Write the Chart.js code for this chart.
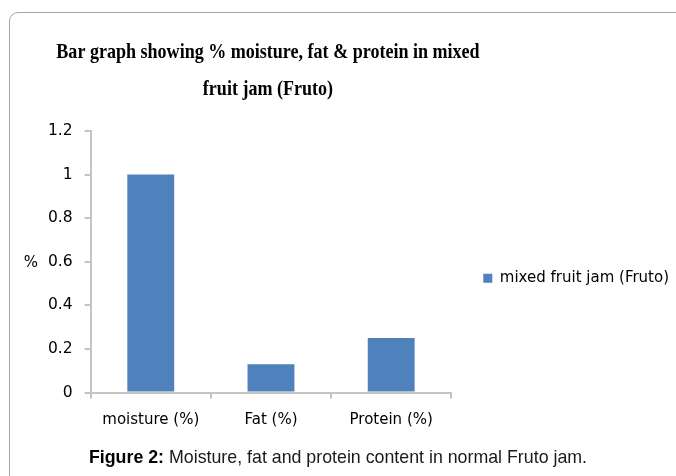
<!DOCTYPE html>
<html>
<head>
<meta charset="utf-8">
<script src="https://cdn.jsdelivr.net/npm/chart.js@4.4.1/dist/chart.umd.min.js"></script>
<style>
  html, body { margin: 0; padding: 0; background: #fff; overflow: hidden; }
  #wrap { position: relative; width: 676px; height: 476px; overflow: hidden; }
  #frame { position: absolute; left: 9px; top: 12px; width: 720px; height: 520px;
           border: 1px solid #a6a6a6; border-radius: 9px; box-sizing: border-box; }
  #chartBox { position: absolute; left: 0; top: 0; width: 676px; height: 476px; }
  #caption { position: absolute; left: 0; top: 446px; width: 676px; text-align: center;
             font-family: "Liberation Sans", Arial, sans-serif; font-size: 17.8px; line-height: 22px; color: #1a1a1a; }
  #caption b { color: #000; }
</style>
</head>
<body>
<div id="wrap">
  <div id="frame"></div>
  <div id="chartBox"><canvas id="c" width="676" height="476"></canvas></div>
  <div id="caption"><b>Figure 2:</b> Moisture, fat and protein content in normal Fruto jam.</div>
</div>
<script>
const titleLines = ['Bar graph showing % moisture, fat & protein in mixed', 'fruit jam (Fruto)'];
const categories = ['moisture (%)', 'Fat (%)', 'Protein (%)'];
const seriesLabel = 'mixed fruit jam (Fruto)';
const jamValues = [1.0, 0.13, 0.25];
const yTickValues = [0, 0.2, 0.4, 0.6, 0.8, 1, 1.2];
const yAxisLabel = '%';

const tickFont = { family: 'DejaVu Sans', size: 15 };
const axisGrey = '#c4c4c4';

// Title drawn condensed (as in the reference) and centred over the plot area
const condensedTitle = {
  id: 'condensedTitle',
  afterDraw(chart) {
    const { ctx, chartArea } = chart;
    const cx = (chartArea.left + chartArea.right) / 2 - 3;
    ctx.save();
    ctx.font = 'bold 22px "Liberation Serif"';
    ctx.fillStyle = '#000';
    ctx.textAlign = 'center';
    ctx.textBaseline = 'alphabetic';
    titleLines.forEach((line, i) => {
      ctx.save();
      ctx.translate(cx, chartArea.top - 73 + i * 37);
      ctx.scale(0.82, 1);
      ctx.fillText(line, 0, 0);
      ctx.restore();
    });
    ctx.restore();
  }
};

// Horizontal "%" axis label left of the value axis
const yLabelPlugin = {
  id: 'yLabelPlugin',
  afterDraw(chart) {
    const { ctx, chartArea } = chart;
    ctx.save();
    ctx.font = '15px "DejaVu Sans"';
    ctx.fillStyle = '#000';
    ctx.textAlign = 'center';
    ctx.textBaseline = 'middle';
    ctx.fillText(yAxisLabel, 31, (chartArea.top + chartArea.bottom) / 2 + 1);
    ctx.restore();
  }
};

// Let the right-hand legend take its natural width
const wideLegend = {
  id: 'wideLegend',
  beforeLayout(chart) {
    const lg = chart.legend;
    if (lg && !lg.__wide) {
      const orig = lg.fit;
      lg.fit = function () { this.maxWidth = 1000; orig.call(this); };
      lg.__wide = true;
    }
  }
};

new Chart(document.getElementById('c'), {
  type: 'bar',
  data: {
    labels: categories,
    datasets: [{
      label: seriesLabel,
      data: jamValues,
      backgroundColor: '#4f81bd',
      borderWidth: 0,
      barPercentage: 0.39,
      categoryPercentage: 1.0
    }]
  },
  options: {
    responsive: false,
    animation: false,
    events: [],
    layout: { padding: { left: 36, right: -3, top: 131, bottom: 33.5 } },
    plugins: {
      title: { display: false },
      legend: {
        display: true,
        position: 'right',
        fullSize: false,
        title: { display: true, text: ' ', font: { size: 10, lineHeight: 1 }, padding: { top: 23, bottom: 0 } },
        labels: {
          font: tickFont,
          color: '#000',
          boxWidth: 9,
          boxHeight: 9,
          padding: 32
        }
      },
      tooltip: { enabled: false }
    },
    scales: {
      x: {
        grid: { display: true, drawOnChartArea: false, drawTicks: true, tickLength: 6, color: axisGrey, lineWidth: 2, offset: true },
        border: { display: true, color: axisGrey, width: 2 },
        ticks: { font: tickFont, color: '#000', padding: 13 }
      },
      y: {
        min: 0,
        max: 1.2,
        afterBuildTicks(scale) { scale.ticks = yTickValues.map(v => ({ value: v })); },
        grid: { display: true, drawOnChartArea: false, drawTicks: true, tickLength: 6, color: axisGrey, lineWidth: 2 },
        border: { display: true, color: axisGrey, width: 2 },
        ticks: { font: { family: 'DejaVu Sans', size: 15.5 }, color: '#000', padding: 12,
                 callback: (v) => String(Math.round(v * 10) / 10) }
      }
    }
  },
  plugins: [wideLegend, condensedTitle, yLabelPlugin]
});
</script>
</body>
</html>
